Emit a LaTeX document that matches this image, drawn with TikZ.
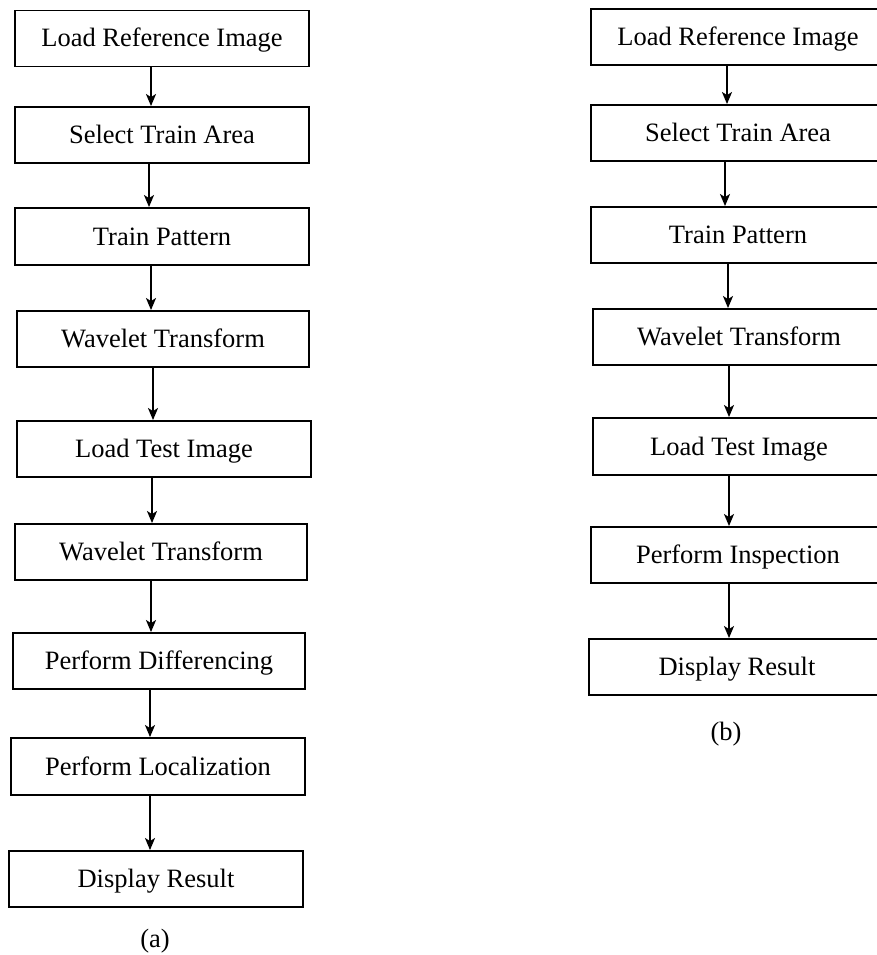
\documentclass[tikz,border=0pt]{standalone}
\usepackage{fontspec}
\setmainfont{Liberation Serif}
\usetikzlibrary{arrows.meta}
\tikzset{
  stepbox/.style={draw=black, line width=1.9pt, rectangle, inner sep=0pt,
    minimum width=294pt, minimum height=56pt,
    font=\fontsize{26.5pt}{30pt}\selectfont, text height=22pt, text depth=5pt},
  flow/.style={draw=black, line width=1.7pt,
    -{Stealth[length=12pt, width=10pt, inset=3pt]}},
  caption/.style={font=\fontsize{26.5pt}{30pt}\selectfont, inner sep=0pt}
}
\begin{document}
\begin{tikzpicture}[x=1pt, y=-1pt]
\useasboundingbox (0,0) rectangle (876,955);

% (a) full pipeline with differencing and localization
\node[stepbox] (L1) at (162,38.5) {Load Reference Image};
\node[stepbox] (L2) at (162,135) {Select Train Area};
\node[stepbox, minimum height=57pt] (L3) at (162,236.5) {Train Pattern};
\node[stepbox, minimum width=292pt] (L4) at (163,339) {Wavelet Transform};
\node[stepbox] (L5) at (164,449) {Load Test Image};
\node[stepbox, minimum width=292pt] (L6) at (161,552) {Wavelet Transform};
\node[stepbox, minimum width=292pt] (L7) at (159,661) {Perform Differencing};
\node[stepbox, minimum height=57pt] (L8) at (158,766.5) {Perform Localization};
\node[stepbox] (L9) at (156,879) {Display Result};
\node[caption] (La) at (155,941) {(a)};

\draw[flow] (L1.south -| 151,0) -- (L2.north -| 151,0);
\draw[flow] (L2.south -| 149,0) -- (L3.north -| 149,0);
\draw[flow] (L3.south -| 151,0) -- (L4.north -| 151,0);
\draw[flow] (L4.south -| 153,0) -- (L5.north -| 153,0);
\draw[flow] (L5.south -| 152,0) -- (L6.north -| 152,0);
\draw[flow] (L6.south -| 151,0) -- (L7.north -| 151,0);
\draw[flow] (L7.south -| 150,0) -- (L8.north -| 150,0);
\draw[flow] (L8.south -| 150,0) -- (L9.north -| 150,0);

% (b) pipeline with direct inspection
\node[stepbox] (R1) at (738,37) {Load Reference Image};
\node[stepbox] (R2) at (738,133) {Select Train Area};
\node[stepbox] (R3) at (738,235) {Train Pattern};
\node[stepbox, minimum width=292pt] (R4) at (739,337) {Wavelet Transform};
\node[stepbox, minimum width=292pt, minimum height=57pt] (R5) at (739,446.5) {Load Test Image};
\node[stepbox] (R6) at (738,555) {Perform Inspection};
\node[stepbox, minimum width=296pt] (R7) at (737,667) {Display Result};
\node[caption] (Rb) at (726,734) {(b)};

\draw[flow] (R1.south -| 727,0) -- (R2.north -| 727,0);
\draw[flow] (R2.south -| 725,0) -- (R3.north -| 725,0);
\draw[flow] (R3.south -| 728,0) -- (R4.north -| 728,0);
\draw[flow] (R4.south -| 729,0) -- (R5.north -| 729,0);
\draw[flow] (R5.south -| 729,0) -- (R6.north -| 729,0);
\draw[flow] (R6.south -| 729,0) -- (R7.north -| 729,0);
\end{tikzpicture}
\end{document}
